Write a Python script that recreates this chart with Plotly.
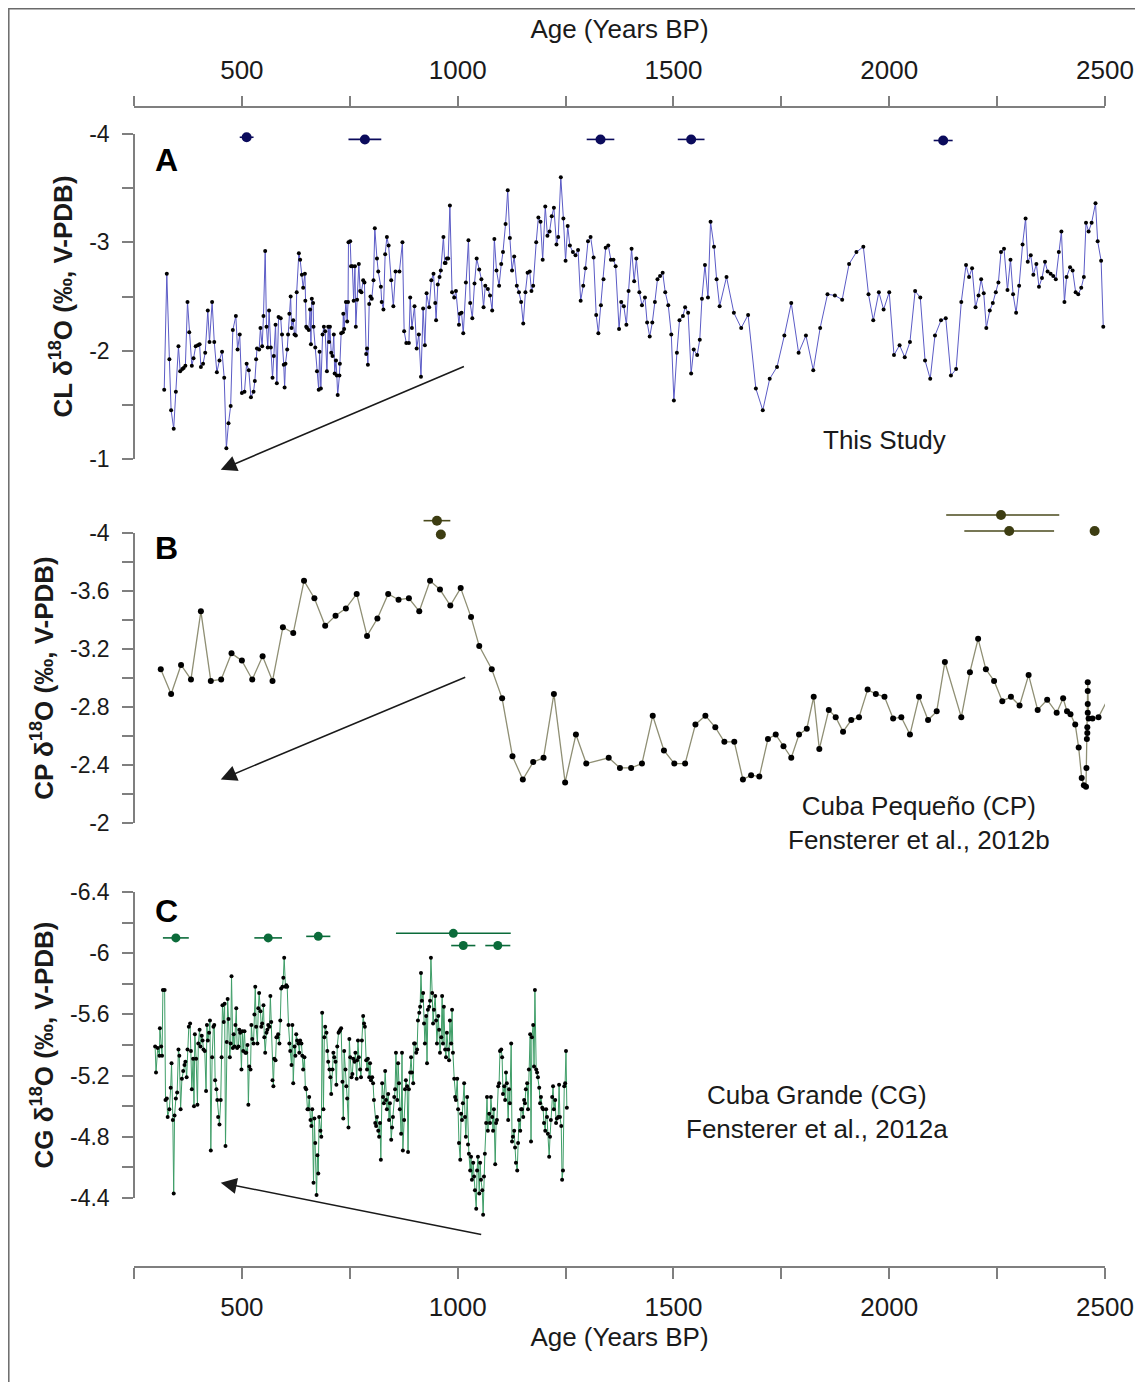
import plotly.graph_objects as go

# the page body adds an 8px margin, so the figure is 16px smaller than the window
W, H = 1127, 1374
OFF = 8
FONT = "Liberation Sans, Arial, sans-serif"

# ---------------- tick labels ----------------
age_tickvals = [250, 500, 750, 1000, 1250, 1500, 1750, 2000, 2250, 2500]
age_ticktext = ["", "500", "", "1000", "", "1500", "", "2000", "", "2500"]
cl_tickvals = [-4, -3.5, -3, -2.5, -2, -1.5, -1]
cl_ticktext = ["-4", "", "-3", "", "-2", "", "-1"]
cp_tickvals = [-4, -3.8, -3.6, -3.4, -3.2, -3.0, -2.8, -2.6, -2.4, -2.2, -2]
cp_ticktext = ["-4", "", "-3.6", "", "-3.2", "", "-2.8", "", "-2.4", "", "-2"]
cg_tickvals = [-6.4, -6.2, -6, -5.8, -5.6, -5.4, -5.2, -5.0, -4.8, -4.6, -4.4]
cg_ticktext = ["-6.4", "", "-6", "", "-5.6", "", "-5.2", "", "-4.8", "", "-4.4"]

# ---------------- A: CL (this study) ----------------
cl_age = [
    320, 326, 332, 336, 342, 347, 353, 357, 362, 365,
    369, 374, 378, 384, 388, 393, 398, 402, 405, 410,
    415, 421, 425, 431, 436, 442, 448, 454, 459, 464,
    469, 474, 479, 486, 490, 495, 500, 506, 511, 516,
    521, 527, 530, 533, 535, 540, 543, 547, 550, 554,
    557, 560, 563, 567, 571, 574, 578, 581, 585, 590,
    593, 597, 599, 601, 605, 607, 610, 613, 615, 619,
    622, 625, 627, 632, 635, 639, 642, 646, 647, 649,
    651, 655, 658, 660, 662, 665, 666, 670, 674, 678,
    680, 683, 687, 690, 693, 697, 700, 702, 704, 707,
    710, 713, 715, 718, 720, 722, 726, 727, 730, 734,
    735, 737, 741, 744, 746, 747, 751, 753, 756, 759,
    762, 764, 767, 771, 774, 777, 781, 784, 788, 790,
    792, 795, 798, 801, 805, 808, 813, 816, 822, 824,
    828, 832, 836, 840, 846, 851, 856, 865, 872, 876,
    881, 887, 890, 894, 900, 905, 910, 915, 920, 924,
    928, 934, 939, 944, 948, 950, 954, 958, 961, 967,
    970, 972, 975, 978, 982, 987, 992, 996, 1003, 1005,
    1009, 1013, 1019, 1025, 1029, 1034, 1039, 1044,
    1050, 1055, 1060, 1064, 1070, 1075, 1080, 1085, 1090, 1096,
    1101, 1105, 1111, 1116, 1121, 1126, 1131, 1137, 1142, 1147,
    1152, 1157, 1162, 1167, 1171, 1175, 1182, 1187, 1192, 1197,
    1203, 1208, 1213, 1218, 1223, 1229, 1233, 1239, 1245, 1250,
    1255, 1260, 1267, 1273, 1279, 1285, 1291, 1296, 1302, 1308,
    1315, 1321, 1326, 1332, 1338, 1343, 1349, 1355, 1361, 1366,
    1374, 1379, 1385, 1391, 1396, 1403, 1409, 1414, 1421, 1427,
    1434, 1439, 1445, 1451, 1457, 1463, 1469, 1475, 1481, 1488,
    1495, 1501, 1508, 1514, 1522, 1527, 1534, 1541, 1547, 1555,
    1561, 1566, 1573, 1580, 1586, 1594, 1600, 1607, 1623, 1640,
    1657, 1673, 1691, 1707, 1723, 1740, 1757, 1773, 1790, 1807, 1824, 1840,
    1857, 1874, 1891, 1907, 1924, 1940, 1952, 1963, 1976, 1987,
    2000, 2011, 2024, 2036, 2048, 2060, 2072, 2083, 2095, 2106,
    2120, 2131, 2143, 2155, 2167, 2178, 2185, 2192, 2200, 2207,
    2213, 2219, 2225, 2233, 2240, 2247, 2253, 2259, 2266, 2274,
    2281, 2287, 2294, 2301, 2309, 2316, 2321, 2328, 2334, 2341,
    2347, 2354, 2361, 2367, 2374, 2380, 2386, 2393, 2399, 2406,
    2411, 2419, 2425, 2432, 2438, 2445, 2451, 2456, 2462, 2469,
    2478, 2483, 2491, 2496,
]
cl_d18o = [
    -1.64, -2.71, -1.92, -1.45, -1.28, -1.62, -2.04, -1.81, -1.83, -1.84,
    -1.86, -2.45, -2.17, -1.86, -1.93, -2.04, -2.05, -2.06, -1.85, -1.88,
    -1.98, -2.37, -2.08, -2.45, -2.08, -1.80, -1.91, -1.99, -1.75, -1.10,
    -1.33, -1.49, -2.19, -2.32, -2.01, -2.15, -1.61, -1.62, -1.88, -1.82,
    -1.57, -1.62, -1.72, -1.92, -2.02, -2.01, -2.21, -2.04, -2.32, -2.92,
    -2.22, -2.03, -2.37, -2.03, -1.75, -1.95, -2.24, -1.70, -2.31, -2.30,
    -2.15, -1.87, -1.66, -1.88, -2.01, -2.15, -2.34, -2.50, -2.21, -2.28,
    -2.15, -2.14, -2.54, -2.90, -2.84, -2.70, -2.58, -2.71, -2.46, -2.22,
    -2.21, -2.19, -2.38, -2.06, -2.48, -2.44, -2.22, -2.03, -1.81, -1.64,
    -1.99, -1.65, -2.15, -2.22, -2.18, -1.81, -2.22, -2.08, -2.22, -1.98,
    -1.95, -2.15, -1.79, -1.91, -1.77, -1.59, -1.77, -1.88, -2.16, -2.17,
    -2.34, -2.20, -2.45, -2.27, -2.45, -3.00, -3.01, -2.78, -2.78, -2.46,
    -2.78, -2.22, -2.47, -2.80, -2.55, -2.54, -2.65, -2.63, -1.97, -2.02,
    -1.87, -2.43, -2.50, -2.48, -2.65, -3.13, -2.85, -2.73, -2.59, -2.45,
    -2.38, -2.89, -3.05, -2.97, -2.65, -2.41, -2.73, -2.73, -3.00, -2.18,
    -2.07, -2.07, -2.49, -2.21, -2.41, -2.02, -2.15, -1.76, -2.39, -2.05,
    -2.53, -2.40, -2.65, -2.71, -2.44, -2.28, -2.61, -2.68, -2.74, -3.05,
    -2.81, -2.81, -2.85, -2.85, -3.34, -2.54, -2.49, -2.55, -2.24, -2.34,
    -2.35, -2.16, -2.63, -3.02, -2.44, -2.30, -2.62, -2.85,
    -2.75, -2.66, -2.40, -2.60, -2.57, -2.51, -2.37, -3.03, -2.74, -2.60,
    -2.80, -2.91, -3.17, -3.48, -3.04, -2.74, -2.87, -2.60, -2.54, -2.45,
    -2.25, -2.54, -2.72, -2.73, -2.55, -2.60, -3.00, -3.23, -3.19, -2.84,
    -3.33, -3.06, -3.10, -3.24, -3.32, -2.98, -3.05, -3.60, -3.22, -2.83,
    -3.15, -2.97, -2.91, -2.88, -2.93, -2.46, -2.60, -2.76, -3.01, -3.05,
    -2.86, -2.33, -2.16, -2.42, -2.66, -2.95, -2.97, -2.84, -2.84, -2.78,
    -2.20, -2.45, -2.41, -2.24, -2.55, -2.94, -2.64, -2.85, -2.54, -2.42,
    -2.49, -2.26, -2.13, -2.26, -2.45, -2.66, -2.69, -2.72, -2.54, -2.42,
    -2.15, -1.54, -1.98, -2.28, -2.32, -2.40, -2.35, -1.79, -2.01, -1.96,
    -2.10, -2.48, -2.79, -2.49, -3.19, -2.96, -2.66, -2.41, -2.68, -2.35,
    -2.21, -2.33, -1.65, -1.45, -1.74, -1.85, -2.14, -2.44, -1.98, -2.14, -1.82, -2.21,
    -2.52, -2.51, -2.47, -2.80, -2.91, -2.96, -2.52, -2.28, -2.54, -2.38,
    -2.54, -1.96, -2.05, -1.94, -2.08, -2.55, -2.49, -1.91, -1.74, -2.14,
    -2.28, -2.30, -1.77, -1.83, -2.45, -2.79, -2.68, -2.76, -2.40, -2.51,
    -2.66, -2.53, -2.21, -2.37, -2.44, -2.54, -2.63, -2.91, -2.94, -2.56,
    -2.84, -2.52, -2.35, -2.60, -2.98, -3.22, -2.82, -2.88, -2.70, -2.80,
    -2.59, -2.67, -2.82, -2.73, -2.71, -2.69, -2.66, -2.91, -3.10, -2.45,
    -2.68, -2.77, -2.74, -2.54, -2.52, -2.58, -2.68, -3.18, -3.10, -3.18,
    -3.36, -3.01, -2.83, -2.22,
]
cl_date_age = [511, 785, 1331, 1541, 2125]
cl_date_err = [16, 38, 32, 31, 22]
cl_date_row = [-3.97, -3.95, -3.95, -3.95, -3.94]

# ---------------- B: Cuba Pequeno ----------------
cp_age = [
    312, 336, 359, 382, 405, 428, 452, 476, 500, 524,
    548, 571, 595, 619, 644, 668, 693, 717, 741, 766,
    790, 814, 839, 863, 887, 911, 936, 959, 983, 1007,
    1031, 1050, 1079, 1103, 1127, 1151, 1175, 1199, 1223, 1249,
    1274, 1298, 1350, 1376, 1402, 1427, 1452, 1478, 1502, 1527,
    1551, 1574, 1597, 1618, 1641, 1661, 1680, 1699, 1719, 1737,
    1755, 1773, 1791, 1809, 1825, 1838, 1860, 1876, 1893, 1912,
    1930, 1950, 1969, 1989, 2009, 2028, 2048, 2069, 2090, 2110,
    2129, 2167, 2187, 2206, 2224, 2243, 2262, 2282, 2302, 2323,
    2344, 2366, 2388, 2403, 2412, 2420, 2431, 2439, 2446, 2451,
    2456, 2457, 2458, 2459, 2459, 2460, 2460, 2460, 2460, 2462,
    2471, 2485, 2504,
]
cp_d18o = [
    -3.06, -2.89, -3.09, -2.99, -3.46, -2.98, -2.99, -3.17, -3.12, -2.99,
    -3.15, -2.98, -3.35, -3.31, -3.67, -3.55, -3.36, -3.43, -3.48, -3.58,
    -3.29, -3.41, -3.58, -3.54, -3.55, -3.46, -3.67, -3.61, -3.50, -3.62,
    -3.42, -3.22, -3.06, -2.86, -2.46, -2.30, -2.42, -2.45, -2.89, -2.28,
    -2.61, -2.41, -2.45, -2.38, -2.38, -2.41, -2.74, -2.50, -2.41, -2.41,
    -2.68, -2.74, -2.66, -2.56, -2.56, -2.30, -2.33, -2.32, -2.58, -2.61,
    -2.53, -2.45, -2.61, -2.65, -2.87, -2.51, -2.78, -2.73, -2.63, -2.71,
    -2.73, -2.92, -2.89, -2.87, -2.72, -2.73, -2.61, -2.87, -2.71, -2.77,
    -3.11, -2.73, -3.04, -3.27, -3.06, -2.98, -2.84, -2.87, -2.81, -3.02,
    -2.78, -2.85, -2.76, -2.86, -2.77, -2.75, -2.68, -2.52, -2.31, -2.26,
    -2.25, -2.38, -2.58, -2.62, -2.66, -2.76, -2.82, -2.91, -2.97, -2.72,
    -2.72, -2.73, -2.84,
]
cp_date_age = [952, 961, 2259, 2278, 2476]
cp_date_err_minus = [31, 0, 127, 104, 0]
cp_date_err_plus = [31, 0, 135, 104, 0]
cp_date_row = [-4.085, -3.99, -4.124, -4.014, -4.014]

# ---------------- C: Cuba Grande ----------------
cg_age = [
    299, 301, 305, 309, 310, 313, 315, 317, 321, 323,
    326, 328, 332, 335, 337, 340, 342, 344, 347, 350,
    353, 355, 358, 361, 364, 367, 369, 372, 374, 377,
    380, 382, 384, 387, 389, 391, 394, 397, 399, 402,
    404, 407, 409, 411, 414, 417, 419, 421, 424, 426,
    428, 431, 434, 436, 438, 441, 443, 445, 448, 451,
    453, 455, 458, 460, 462, 465, 467, 469, 472, 474,
    476, 479, 481, 483, 485, 487, 489, 492, 494, 496,
    499, 501, 503, 506, 508, 510, 513, 515, 517, 520,
    522, 524, 527, 529, 531, 533, 536, 538, 540, 543,
    545, 547, 550, 552, 554, 557, 559, 561, 564, 566,
    568, 571, 573, 575, 578, 580, 582, 584, 587, 589,
    591, 594, 596, 598, 601, 603, 605, 608, 610, 612,
    615, 617, 619, 622, 624, 626, 628, 631, 633, 635,
    638, 640, 642, 645, 647, 649, 652, 654, 656, 659,
    661, 663, 666, 668, 670, 673, 675, 677, 679, 682,
    684, 686, 689, 691, 693, 696, 698, 700, 703, 705,
    707, 710, 712, 714, 717, 719, 721, 724, 726, 728,
    730, 733, 735, 737, 740, 742, 744, 747, 749, 751,
    754, 756, 758, 761, 763, 766,
    767, 769, 771, 774, 776, 778, 781, 783, 785, 788,
    790, 792, 795, 797, 799, 802, 804, 806, 809, 811,
    813, 816, 818, 820, 822, 825, 827, 829, 832, 834,
    836, 839, 841, 843, 846, 848, 850, 853, 855, 857,
    860, 862, 864, 866, 869, 871, 873, 876, 878, 880,
    883, 885, 887, 890, 892, 894, 897, 899, 901, 904,
    906, 908, 911, 913, 915, 917, 920, 922, 924, 927,
    929, 931, 934, 936, 938, 941, 943, 945, 948, 950,
    952, 955, 957, 959, 962, 964, 966, 968, 971, 973,
    975, 978, 980, 982, 985, 987, 989, 992, 994, 996,
    999, 1001, 1003, 1006, 1008, 1010, 1012, 1015, 1017, 1019,
    1022, 1024, 1026, 1029, 1031, 1033, 1036, 1038, 1040, 1043,
    1045, 1047, 1050, 1052, 1054, 1057, 1059, 1061, 1063, 1066,
    1068, 1070, 1073, 1075, 1077, 1080, 1082, 1084, 1087, 1089,
    1091, 1094, 1096, 1098, 1101, 1103, 1105, 1108, 1110, 1112,
    1114, 1117, 1119, 1121, 1124, 1126, 1128, 1131, 1133, 1135,
    1138, 1140, 1142, 1145, 1147, 1149, 1152, 1154, 1156, 1158,
    1161, 1163, 1165, 1168, 1170, 1172, 1175, 1177, 1179, 1182,
    1184, 1186, 1189, 1191, 1193, 1196, 1198, 1200, 1203, 1205,
    1207, 1209, 1212, 1214, 1216, 1219, 1221, 1223, 1226, 1228,
    1230, 1233, 1235, 1237, 1240, 1242, 1244, 1247, 1249, 1251,
    1253,
]
cg_d18o = [
    -5.39, -5.22, -5.38, -5.33, -5.51, -5.39, -5.33, -5.76, -5.76, -5.04,
    -5.05, -4.93, -4.98, -5.12, -5.28, -4.91, -4.43, -4.94, -5.05, -5.09,
    -5.37, -5.33, -4.98, -5.18, -5.23, -5.27, -5.29, -5.19, -5.37, -5.52,
    -5.54, -5.36, -5.11, -5.31, -5.00, -5.47, -5.31, -5.01, -5.41, -5.50,
    -5.39, -5.46, -5.43, -5.37, -5.36, -5.10, -5.53, -5.43, -5.48, -5.56,
    -4.71, -5.32, -5.52, -5.53, -5.17, -5.11, -5.04, -4.93, -4.88, -5.04,
    -5.32, -5.66, -5.55, -5.67, -4.74, -5.42, -5.70, -5.57, -5.32, -5.41,
    -5.85, -5.38, -5.47, -5.39, -5.53, -5.64, -5.38, -5.39, -5.50, -5.48,
    -5.24, -5.49, -5.36, -5.49, -5.35, -5.35, -5.40, -5.01, -5.26, -5.24,
    -5.53, -5.44, -5.41, -5.60, -5.78, -5.52, -5.41, -5.64, -5.74, -5.62,
    -5.52, -5.54, -5.66, -5.45, -5.35, -5.48, -5.50, -5.53, -5.52, -5.72,
    -5.55, -5.17, -5.13, -5.31, -5.30, -5.45, -5.45, -5.47, -5.41, -5.56,
    -5.77, -5.78, -5.84, -5.97, -5.78, -5.79, -5.78, -5.53, -5.41, -5.36,
    -5.27, -5.53, -5.15, -5.39, -5.33, -5.47, -5.43, -5.41, -5.35, -5.43,
    -5.41, -5.33, -5.24, -5.32, -5.12, -5.11, -4.98, -4.98, -5.06, -4.91,
    -4.87, -4.98, -4.50, -4.92, -4.76, -4.42, -4.68, -4.56, -4.93, -4.84,
    -4.80, -5.61, -4.98, -5.45, -5.52, -5.48, -5.36, -5.29, -5.24, -5.19,
    -5.08, -5.24, -5.35, -5.32, -5.29, -5.14, -5.39, -5.48, -5.49, -5.50,
    -5.51, -5.16, -4.92, -5.36, -5.24, -5.13, -5.05, -4.86, -5.44, -5.32,
    -5.19, -5.21, -5.31, -5.29, -5.35, -5.18,
    -5.30, -5.43, -5.32, -5.24, -5.19, -5.43, -5.59, -5.54, -5.52, -5.30,
    -5.24, -5.31, -5.19, -5.28, -5.17, -5.19, -5.15, -5.04, -4.89, -4.87,
    -4.93, -4.84, -4.80, -4.89, -4.65, -5.15, -5.06, -5.02, -5.23, -5.04,
    -4.98, -5.08, -4.91, -5.02, -4.78, -4.86, -4.93, -5.06, -5.11, -5.35,
    -5.04, -5.28, -5.15, -4.98, -4.82, -5.35, -4.71, -4.91, -5.11, -5.17,
    -5.13, -4.70, -5.11, -5.22, -5.32, -5.22, -5.15, -5.41, -5.41, -5.35,
    -5.37, -5.56, -5.61, -5.65, -5.87, -5.69, -5.74, -5.54, -5.41, -5.59,
    -5.28, -5.63, -5.65, -5.69, -5.97, -5.74, -5.54, -5.63, -5.72, -5.56,
    -5.41, -5.59, -5.50, -5.35, -5.45, -5.72, -5.41, -5.65, -5.37, -5.32,
    -5.48, -5.37, -5.30, -5.56, -5.41, -5.63, -5.35, -5.18, -5.06, -5.04,
    -5.18, -4.98, -4.76, -4.65, -4.95, -4.91, -5.02, -5.15, -4.93, -4.80,
    -5.06, -4.75, -4.69, -4.58, -4.67, -4.52, -4.63, -4.54, -4.45, -4.33,
    -4.58, -4.67, -4.43, -4.63, -4.52, -4.45, -4.29, -4.54, -4.69, -4.89,
    -5.06, -4.84, -4.95, -4.89, -5.06, -4.93, -4.84, -4.98, -4.62, -4.89,
    -4.91, -5.13, -5.15, -5.36, -5.37, -5.32, -5.08, -5.13, -5.04, -5.22,
    -5.15, -4.91, -5.11, -5.02, -5.41, -4.77, -4.80, -4.84, -4.73, -4.63,
    -4.58, -4.76, -4.91, -4.84, -4.98, -4.98, -4.93, -5.04, -5.02, -5.11,
    -5.15, -4.98, -5.24, -5.47, -4.77, -5.45, -5.53, -5.26, -5.76, -5.24,
    -5.22, -5.19, -5.12, -5.02, -5.06, -4.99, -4.98, -4.89, -4.84, -4.98,
    -4.93, -4.82, -4.67, -4.80, -4.91, -5.06, -5.13, -4.98, -5.04, -4.89,
    -4.92, -4.93, -5.14, -4.93, -4.87, -4.52, -4.58, -5.13, -5.15, -5.36,
    -4.99,
]
cg_date_age = [347, 561, 677, 990, 1013, 1093]
cg_date_err = [30, 32, 28, 133, 28, 29]
cg_date_row = [-6.10, -6.10, -6.11, -6.13, -6.05, -6.05]

# ---------------- layout helpers (window pixel -> paper) ----------------
def px(x):
    return (x - OFF) / W


def py(y):
    return 1 - (y - OFF) / H


X_DOM = [px(134), px(1105)]
X_RANGE = [250, 2500]
AXCOL = "#7f7f7f"
TXT = "#1a1a1a"

fig = go.Figure()

fig.add_trace(go.Scatter(
    x=cl_age, y=cl_d18o, mode="lines+markers", xaxis="x", yaxis="y",
    line=dict(color="#5b5bc6", width=1), marker=dict(color="black", size=4),
    cliponaxis=False, showlegend=False, hoverinfo="skip"))
fig.add_trace(go.Scatter(
    x=cl_date_age, y=cl_date_row, mode="markers", xaxis="x", yaxis="y",
    marker=dict(color="#0b0b5c", size=10),
    error_x=dict(type="data", array=cl_date_err, color="#0b0b5c", thickness=1.6, width=0),
    cliponaxis=False, showlegend=False, hoverinfo="skip"))

fig.add_trace(go.Scatter(
    x=cp_age, y=cp_d18o, mode="lines+markers", xaxis="x2", yaxis="y2",
    line=dict(color="#8f8f74", width=1.3), marker=dict(color="black", size=6),
    cliponaxis=False, showlegend=False, hoverinfo="skip"))
fig.add_trace(go.Scatter(
    x=cp_date_age, y=cp_date_row, mode="markers", xaxis="x2", yaxis="y7",
    marker=dict(color="#3d3d12", size=10),
    error_x=dict(type="data", symmetric=False, array=cp_date_err_plus,
                 arrayminus=cp_date_err_minus, color="#4a4a1c", thickness=1.6, width=0),
    cliponaxis=False, showlegend=False, hoverinfo="skip"))

fig.add_trace(go.Scatter(
    x=cg_age, y=cg_d18o, mode="lines+markers", xaxis="x3", yaxis="y8",
    line=dict(color="#3f9e68", width=1), marker=dict(color="black", size=4),
    cliponaxis=False, showlegend=False, hoverinfo="skip"))
fig.add_trace(go.Scatter(
    x=cg_date_age, y=cg_date_row, mode="markers", xaxis="x3", yaxis="y3",
    marker=dict(color="#0b6b3a", size=9),
    error_x=dict(type="data", array=cg_date_err, color="#0b6b3a", thickness=1.6, width=0),
    cliponaxis=False, showlegend=False, hoverinfo="skip"))

base = dict(showgrid=False, zeroline=False, showline=True, linecolor=AXCOL, linewidth=1.5,
            tickcolor=AXCOL, tickwidth=1.5, tickmode="array", fixedrange=True, automargin=False)
xtick = dict(tickvals=age_tickvals, ticktext=age_ticktext,
             tickfont=dict(family=FONT, size=26, color=TXT))
inside = dict(showgrid=False, zeroline=False, showline=False, tickcolor=AXCOL, tickwidth=1.5,
              tickmode="array", ticks="inside", showticklabels=False, fixedrange=True,
              automargin=False)
hidden = dict(visible=False, fixedrange=True, automargin=False)

ytitle_font = dict(family=FONT, size=26, color=TXT)
ytick_font = dict(family=FONT, size=23, color=TXT)
xtitle_font = dict(family=FONT, size=26, color=TXT)

# pixel scale of each panel (for the hidden helper axes)
cg_px_per_unit = (1198 - 892) / 2.0
cp_px_per_unit = (823 - 533) / 2.0

fig.update_layout(
    width=W, height=H, autosize=False,
    margin=dict(l=0, r=0, t=0, b=0, pad=0),
    paper_bgcolor="white", plot_bgcolor="rgba(0,0,0,0)",
    hovermode=False,
    font=dict(family=FONT, color=TXT),
    xaxis=dict(**base, **xtick, domain=X_DOM, range=X_RANGE, anchor="free", position=py(107),
               side="top", ticks="outside", ticklen=10, ticklabelstandoff=7,
               title=dict(text="Age (Years BP)", font=xtitle_font, standoff=8)),
    xaxis4=dict(**inside, tickvals=age_tickvals, domain=X_DOM, range=X_RANGE, overlaying="x",
                anchor="free", position=py(107), side="top", ticklen=10),
    xaxis2=dict(**hidden, domain=X_DOM, range=X_RANGE, anchor="y2"),
    xaxis3=dict(**base, **xtick, domain=X_DOM, range=X_RANGE, anchor="free", position=py(1267),
                side="bottom", ticks="outside", ticklen=11, ticklabelstandoff=6,
                title=dict(text="Age (Years BP)", font=xtitle_font, standoff=4)),
    xaxis5=dict(**inside, tickvals=age_tickvals, domain=X_DOM, range=X_RANGE, overlaying="x3",
                anchor="free", position=py(1267), side="bottom", ticklen=10),

    yaxis=dict(**base, domain=[py(459), py(134)], range=[-1, -4], anchor="free", position=px(134),
               tickvals=cl_tickvals, ticktext=cl_ticktext, ticks="outside", ticklen=11,
               tickfont=ytick_font, ticklabelstandoff=8,
               title=dict(text="<b>CL δ<sup>18</sup>O (‰, V-PDB)</b>", font=ytitle_font, standoff=8)),
    yaxis4=dict(**inside, tickvals=cl_tickvals, range=[-1, -4], overlaying="y", anchor="free",
                position=px(134), ticklen=12),

    yaxis2=dict(**base, domain=[py(823), py(533)], range=[-2, -4], anchor="free", position=px(134),
                tickvals=cp_tickvals, ticktext=cp_ticktext, ticks="outside", ticklen=11,
                tickfont=ytick_font, ticklabelstandoff=8,
                title=dict(text="<b>CP δ<sup>18</sup>O (‰, V-PDB)</b>", font=ytitle_font, standoff=8)),
    yaxis5=dict(**inside, tickvals=cp_tickvals, range=[-2, -4], overlaying="y2", anchor="free",
                position=px(134), ticklen=12),
    yaxis7=dict(**hidden, domain=[py(823), py(505)], range=[-2, -2 - (823 - 505) / cp_px_per_unit],
                anchor="x2"),

    yaxis3=dict(**base, domain=[py(1198), py(892)], range=[-4.4, -6.4], anchor="free", position=px(134),
                tickvals=cg_tickvals, ticktext=cg_ticktext, ticks="outside", ticklen=11,
                tickfont=ytick_font, ticklabelstandoff=8,
                title=dict(text="<b>CG δ<sup>18</sup>O (‰, V-PDB)</b>", font=ytitle_font, standoff=8)),
    yaxis6=dict(**inside, tickvals=cg_tickvals, range=[-4.4, -6.4], overlaying="y3", anchor="free",
                position=px(134), ticklen=12),
    yaxis8=dict(**hidden, domain=[py(1232), py(880)],
                range=[-4.4 + (1232 - 1198) / cg_px_per_unit, -6.4 - (892 - 880) / cg_px_per_unit],
                anchor="x3"),
)

# frame around the whole figure (right/bottom edges fall outside the page)
fig.add_shape(type="rect", xref="paper", yref="paper", x0=px(8.8), y0=py(1440), x1=px(1180), y1=py(8.8),
              line=dict(color="#6a6a6a", width=1.5), layer="below")

ann = []
# panel letters
for letter, yy in (("A", 160), ("B", 548), ("C", 911)):
    ann.append(dict(text="<b>%s</b>" % letter, xref="paper", yref="paper", x=px(166), y=py(yy),
                    xanchor="center", yanchor="middle", showarrow=False,
                    font=dict(family=FONT, size=32, color="black")))
# source labels
ann.append(dict(text="This Study", xref="x", yref="y", x=1988, y=-1.175, showarrow=False,
                xanchor="center", yanchor="middle", font=dict(family=FONT, size=26, color=TXT)))
ann.append(dict(text="Cuba Pequeño (CP)<br>Fensterer et al., 2012b", xref="x2", yref="y2",
                x=2070, y=-2.0, showarrow=False, align="center",
                xanchor="center", yanchor="middle", font=dict(family=FONT, size=26, color=TXT)))
ann.append(dict(text="Cuba Grande (CG)<br>Fensterer et al., 2012a", xref="x3", yref="y3",
                x=1833, y=-4.96, showarrow=False, align="center",
                xanchor="center", yanchor="middle", font=dict(family=FONT, size=26, color=TXT)))
# trend arrows
arrow = dict(text="", showarrow=True, arrowhead=2, arrowsize=2.0, arrowwidth=1.6, arrowcolor="#1a1a1a")
ann.append(dict(**arrow, xref="x", yref="y", axref="x", ayref="y", x=451, y=-0.90, ax=1018, ay=-1.86))
ann.append(dict(**arrow, xref="x2", yref="y2", axref="x2", ayref="y2", x=451, y=-2.30, ax=1021, ay=-3.01))
ann.append(dict(**arrow, xref="x3", yref="y3", axref="x3", ayref="y3", x=451, y=-4.50, ax=1058, ay=-4.16))
fig.update_layout(annotations=ann)

fig.write_html("out.html")
